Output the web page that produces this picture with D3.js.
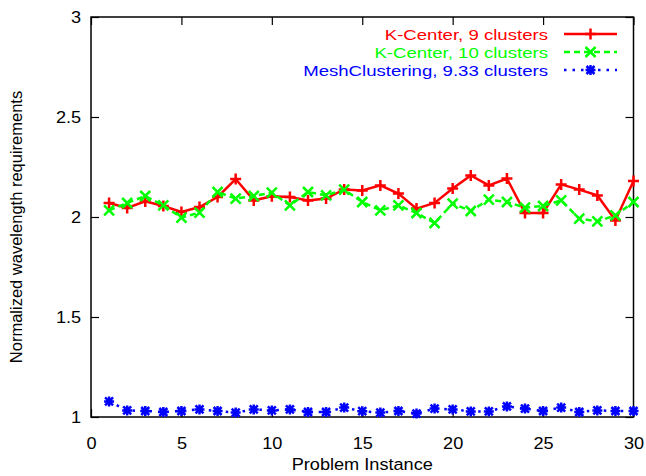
<!DOCTYPE html>
<html>
<head>
<meta charset="utf-8">
<script src="https://cdn.jsdelivr.net/npm/d3@7"></script>
<style>
  body { margin: 0; background: #fff; }
  svg text { font-family: "Liberation Sans", Arial, sans-serif; }
</style>
</head>
<body>
<div id="chart"></div>
<script>
// values
const instances = d3.range(1, 31);
const kCenter9 = [2.07, 2.045, 2.078, 2.055, 2.025, 2.05, 2.10, 2.19, 2.083, 2.104,
    2.10, 2.083, 2.092, 2.138, 2.133, 2.158, 2.117, 2.042, 2.07, 2.142,
    2.208, 2.158, 2.192, 2.02, 2.02, 2.163, 2.137, 2.108, 1.983, 2.18];
const kCenter10 = [2.033, 2.07, 2.105, 2.058, 1.997, 2.022, 2.125, 2.092, 2.105, 2.122,
    2.058, 2.125, 2.108, 2.137, 2.075, 2.033, 2.058, 2.02, 1.97, 2.067,
    2.03, 2.087, 2.075, 2.047, 2.055, 2.083, 1.992, 1.978, 2.008, 2.075];
const meshClustering = [1.078, 1.033, 1.03, 1.025, 1.03, 1.038, 1.03, 1.022, 1.038, 1.033,
    1.038, 1.025, 1.025, 1.047, 1.029, 1.022, 1.03, 1.017, 1.042, 1.038,
    1.028, 1.028, 1.053, 1.042, 1.03, 1.047, 1.025, 1.033, 1.03, 1.03];
const seriesNames = ["K-Center, 9 clusters", "K-Center, 10 clusters", "MeshClustering, 9.33 clusters"];
const xTicks = [0, 5, 10, 15, 20, 25, 30];
const yTicks = [1, 1.5, 2, 2.5, 3];

const width = 646, height = 476;
const margin = { top: 17, right: 12.5, bottom: 59, left: 91 };
const fontSize = 16.5;
const stretch = 1.1; // horizontal text in the reference is a bit wider

const svg = d3.select("#chart").append("svg")
    .attr("width", width)
    .attr("height", height);

const x = d3.scaleLinear().domain([0, 30]).range([margin.left, width - margin.right]);
const y = d3.scaleLinear().domain([1, 3]).range([height - margin.bottom, margin.top]);

// axes, gnuplot style: ticks inside, mirrored
const tickLen = 8;
svg.append("g")
    .attr("transform", `translate(0,${y(1)})`)
    .call(d3.axisBottom(x).tickValues(xTicks).tickSize(-tickLen).tickPadding(tickLen + 12))
    .call(g => g.select(".domain").remove());
svg.append("g")
    .attr("transform", `translate(0,${y(3)})`)
    .call(d3.axisTop(x).tickValues(xTicks).tickSize(-tickLen).tickFormat(""))
    .call(g => g.select(".domain").remove());
svg.append("g")
    .attr("transform", `translate(${x(0)},0)`)
    .call(d3.axisLeft(y).tickValues(yTicks).tickSize(-tickLen).tickPadding(tickLen + 1)
        .tickFormat(d3.format("~g")))
    .call(g => g.select(".domain").remove());
svg.append("g")
    .attr("transform", `translate(${x(30)},0)`)
    .call(d3.axisRight(y).tickValues(yTicks).tickSize(-tickLen).tickFormat(""))
    .call(g => g.select(".domain").remove());

svg.selectAll(".tick line").attr("stroke", "#000").attr("stroke-width", 1.2);
svg.selectAll(".tick text").attr("font-size", fontSize).attr("fill", "#000")
    .attr("transform", `scale(${stretch},1)`);

svg.append("rect")
    .attr("x", x(0)).attr("y", y(3))
    .attr("width", x(30) - x(0)).attr("height", y(1) - y(3))
    .attr("fill", "none").attr("stroke", "#000").attr("stroke-width", 1.5);

// axis titles
svg.append("text")
    .attr("transform", `translate(${(x(0) + x(30)) / 2},470) scale(${stretch},1)`)
    .attr("text-anchor", "middle").attr("font-size", fontSize)
    .text("Problem Instance");
svg.append("text")
    .attr("transform", `translate(22,${(y(1) + y(3)) / 2 + 10}) rotate(-90)`)
    .attr("text-anchor", "middle").attr("font-size", fontSize)
    .text("Normalized wavelength requirements");

// point shapes like gnuplot pt 1,2,3
const plusPath = s => `M${-s},0H${s}M0,${-s}V${s}`;
const crossPath = s => `M${-s},${-s}L${s},${s}M${-s},${s}L${s},${-s}`;
const starPath = s => plusPath(s) + crossPath(s * 0.8);

const series = [
    { name: seriesNames[0], values: kCenter9, color: "#ff0000", dash: null, shape: plusPath, size: 5.5 },
    { name: seriesNames[1], values: kCenter10, color: "#00ff00", dash: "6,4", shape: crossPath, size: 5 },
    { name: seriesNames[2], values: meshClustering, color: "#0000ff", dash: "2.5,6", shape: starPath, size: 5 }
];

const line = d3.line().x((d, i) => x(instances[i])).y(d => y(d));

series.forEach(s => {
    svg.append("path")
        .datum(s.values)
        .attr("d", line)
        .attr("fill", "none")
        .attr("stroke", s.color)
        .attr("stroke-width", 2.5)
        .attr("stroke-dasharray", s.dash);
    svg.append("g").selectAll("path")
        .data(s.values)
        .join("path")
        .attr("transform", (d, i) => `translate(${x(instances[i])},${y(d)})`)
        .attr("d", s.shape(s.size))
        .attr("fill", "none")
        .attr("stroke", s.color)
        .attr("stroke-width", 2.5);
});

// key in upper right, rows kept tight like the reference
const keyFont = 15.5, keyStretch = 1.2;
const key = svg.append("g");
series.forEach((s, i) => {
    const ky = 34 + i * 18;
    key.append("text")
        .attr("transform", `translate(548,${ky + 5.5}) scale(${keyStretch},1)`)
        .attr("text-anchor", "end").attr("font-size", keyFont)
        .attr("fill", s.color)
        .text(s.name);
    key.append("line")
        .attr("x1", 564).attr("x2", 617).attr("y1", ky).attr("y2", ky)
        .attr("stroke", s.color).attr("stroke-width", 2.5)
        .attr("stroke-dasharray", s.dash);
    key.append("path")
        .attr("transform", `translate(590.5,${ky})`)
        .attr("d", s.shape(s.size))
        .attr("fill", "none").attr("stroke", s.color).attr("stroke-width", 2.5);
});
</script>
</body>
</html>
